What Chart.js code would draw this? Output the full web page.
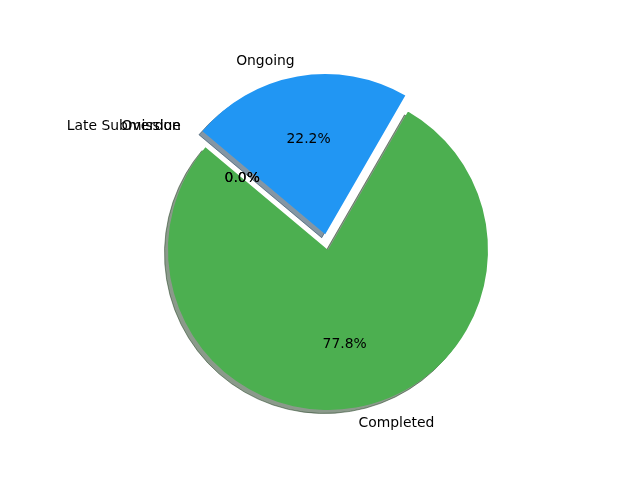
<!DOCTYPE html>
<html>
<head>
<meta charset="utf-8">
<script src="https://cdn.jsdelivr.net/npm/chart.js@4.4.1/dist/chart.umd.min.js"></script>
<style>
  html, body { margin: 0; padding: 0; background: #fff; }
</style>
</head>
<body>
<canvas id="statusChart" width="640" height="480"></canvas>
<script>
// drawn clockwise in Chart.js, so order is reversed vs. the matplotlib original
const categories = ['Late Submission', 'Overdue', 'Ongoing', 'Completed'];
const counts = [0, 0, 2, 7];
const colours = ['#FF9800', '#F44336', '#2196F3', '#4CAF50'];
const explode = [0.1, 0.1, 0.1, 0];

const RADIUS = 160;
const font = "13.9px 'DejaVu Sans', sans-serif";

function midAngle(arc) {
    return (arc.startAngle + arc.endAngle) / 2;
}

// Chart.js moves an arc by offset / 4, so scale up to get explode * radius
function arcShift(arc) {
    return (arc.options.offset || 0) / 4;
}

// matplotlib-style shadow under each wedge
const shadowPlugin = {
    id: 'shadow',
    beforeDatasetsDraw(chart) {
        const ctx = chart.ctx;
        const meta = chart.getDatasetMeta(0);
        ctx.save();
        meta.data.forEach((arc, i) => {
            const circ = arc.endAngle - arc.startAngle;
            if (circ <= 0) return;
            const mid = midAngle(arc);
            const off = arcShift(arc);
            const fix = 1 - Math.sin(Math.min(Math.PI, circ));
            const r = arc.outerRadius + off * fix;
            const cx = arc.x + Math.cos(mid) * off - 3.5;
            const cy = arc.y + Math.sin(mid) * off + 3.5;
            const rgb = Chart.helpers.color(colours[i])._rgb;
            const col = 'rgba(' + Math.round(rgb.r * 0.3) + ',' + Math.round(rgb.g * 0.3) + ',' + Math.round(rgb.b * 0.3) + ',0.5)';
            ctx.beginPath();
            ctx.moveTo(cx, cy);
            ctx.arc(cx, cy, r, arc.startAngle, arc.endAngle);
            ctx.closePath();
            ctx.fillStyle = col;
            ctx.fill();
            ctx.strokeStyle = col;
            ctx.lineWidth = 1;
            ctx.stroke();
        });
        ctx.restore();
    }
};

// wedge labels and percentages
const labelPlugin = {
    id: 'pieLabels',
    afterDatasetsDraw(chart) {
        const ctx = chart.ctx;
        const meta = chart.getDatasetMeta(0);
        const total = counts.reduce((a, b) => a + b, 0);
        const order = [3, 2, 1, 0];
        ctx.save();
        ctx.font = font;
        ctx.fillStyle = '#000';
        ctx.textBaseline = 'middle';
        order.forEach(i => {
            const arc = meta.data[i];
            const mid = midAngle(arc);
            const r = arc.outerRadius;
            const e = explode[i];
            const cos = Math.cos(mid), sin = Math.sin(mid);
            const lx = arc.x + cos * (1.1 + e) * r;
            const ly = arc.y + sin * (1.1 + e) * r;
            ctx.textAlign = cos < 0 ? 'right' : 'left';
            ctx.fillText(categories[i], lx, ly);
            const px = arc.x + cos * (0.6 + e) * r;
            const py = arc.y + sin * (0.6 + e) * r;
            ctx.textAlign = 'center';
            ctx.fillText((counts[i] / total * 100).toFixed(1) + '%', px, py);
        });
        ctx.restore();
    }
};

const ctx = document.getElementById('statusChart').getContext('2d');
const statusChart = new Chart(ctx, {
    type: 'pie',
    data: {
        labels: categories,
        datasets: [{
            data: counts,
            backgroundColor: colours,
            borderWidth: 0,
            offset: explode.map(e => e * RADIUS * 4),
            hoverOffset: 0,
            clip: false,
        }],
    },
    options: {
        responsive: false,
        animation: false,
        devicePixelRatio: 1,
        rotation: -50,
        layout: {
            padding: { top: 58, bottom: 38, left: 16, right: 0 },
        },
        plugins: {
            legend: { display: false },
            tooltip: { enabled: false },
        },
    },
    plugins: [shadowPlugin, labelPlugin],
});
</script>
</body>
</html>
